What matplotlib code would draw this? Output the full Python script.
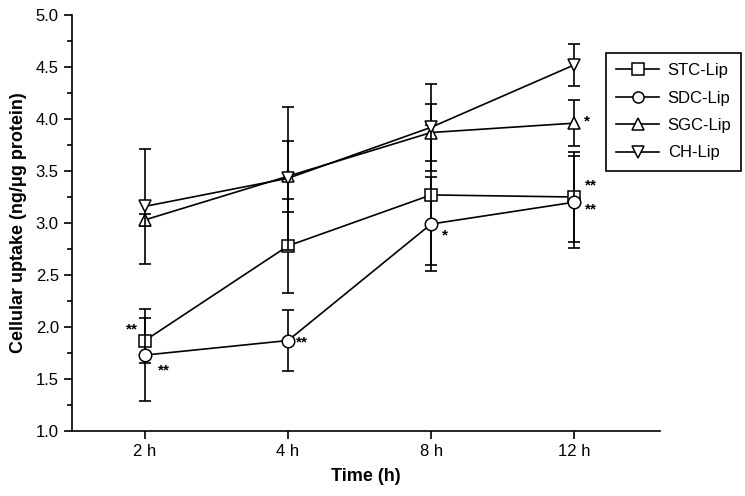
import numpy as np
import matplotlib.pyplot as plt
from matplotlib.ticker import MultipleLocator

plt.rcParams['font.family'] = ['Liberation Sans', 'DejaVu Sans']

# data
times = ['2 h', '4 h', '8 h', '12 h']
stc = [1.87, 2.78, 3.27, 3.25]
stc_err = [0.22, 0.45, 0.67, 0.43]
sdc = [1.73, 1.87, 2.99, 3.20]
sdc_err = [0.44, 0.29, 0.45, 0.44]
sgc = [3.03, 3.45, 3.87, 3.96]
sgc_err = [0.06, 0.34, 0.27, 0.22]
ch = [3.16, 3.43, 3.92, 4.52]
ch_err = [0.55, 0.69, 0.42, 0.20]

series = [
    ('STC-Lip', stc, stc_err, 's'),
    ('SDC-Lip', sdc, sdc_err, 'o'),
    ('SGC-Lip', sgc, sgc_err, '^'),
    ('CH-Lip', ch, ch_err, 'v'),
]

# significance marks: (series values, time index, text, dx px, dy px)
stars = [
    (stc, 0, '**', -13, 11),
    (sdc, 0, '**', 19, -15),
    (sdc, 1, '**', 14, -2),
    (sdc, 2, '*', 14, -11),
    (sgc, 3, '*', 13, 2),
    (stc, 3, '**', 17, 12),
    (sdc, 3, '**', 17, -7),
]

fig = plt.figure(figsize=(7.45, 4.96), dpi=100)
ax = fig.add_axes([72 / 745, 1 - 431 / 496, 588 / 745, 416 / 496])

x = np.arange(len(times))
handles = []
for name, vals, errs, mk in series:
    ax.errorbar(x, vals, yerr=errs, fmt='none', ecolor='black',
                elinewidth=1.2, capsize=4.5, capthick=1.2)
    ln, = ax.plot(x, vals, color='black', lw=1.2, marker=mk, markersize=9,
                  markerfacecolor='white', markeredgecolor='black',
                  markeredgewidth=1.1, label=name)
    handles.append(ln)

for vals, i, txt, dx, dy in stars:
    ax.annotate(txt, (x[i], vals[i]), xytext=(dx * 0.72, dy * 0.72),
                textcoords='offset points', ha='center', va='center',
                fontsize=11, fontweight='bold')

ax.set_xlim(-0.51, 3.6)
ax.set_ylim(1.0, 5.0)
ax.set_xticks(x)
ax.set_xticklabels(times)
ax.yaxis.set_major_locator(MultipleLocator(0.5))
ax.yaxis.set_minor_locator(MultipleLocator(0.25))
ax.yaxis.set_major_formatter(plt.FormatStrFormatter('%.1f'))
ax.tick_params(axis='both', which='major', direction='out', length=6,
               width=1.2, labelsize=12)
ax.tick_params(axis='y', which='minor', direction='out', length=3.5,
               width=1.2)
ax.spines['top'].set_visible(False)
ax.spines['right'].set_visible(False)
ax.spines['left'].set_linewidth(1.2)
ax.spines['bottom'].set_linewidth(1.2)

ax.set_xlabel('Time (h)', fontsize=13, fontweight='bold', labelpad=6)
ax.set_ylabel('Cellular uptake (ng/\u03bcg protein)', fontsize=13,
              fontweight='bold', labelpad=6)

leg = ax.legend(handles=handles, loc='upper left',
                bbox_to_anchor=(606 / 745, 1 - 53 / 496),
                bbox_transform=fig.transFigure, borderaxespad=0,
                fontsize=12, frameon=True,
                fancybox=False, edgecolor='black', borderpad=0.6,
                handlelength=2.6, labelspacing=0.75, handletextpad=0.5,
                framealpha=1)
leg.get_frame().set_linewidth(1.2)
for h in leg.legend_handles:
    h.set_markersize(8)

fig.savefig('out.png', dpi=100)
